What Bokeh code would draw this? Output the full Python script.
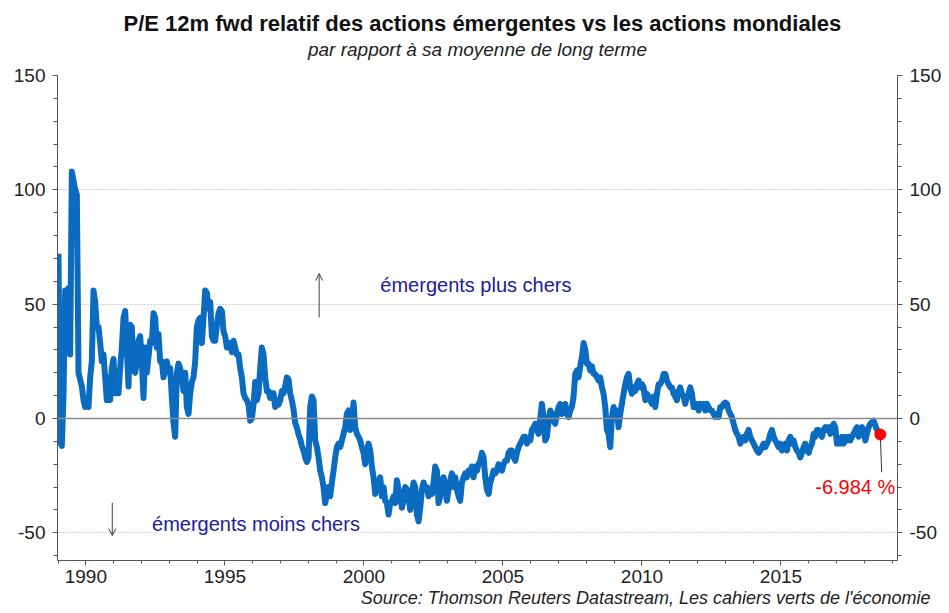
from bokeh.plotting import figure
from bokeh.models import (Range1d, LinearAxis, FixedTicker, Span, Label, Arrow,
                          OpenHead, Title, CustomJSTickFormatter)
from bokeh.embed import file_html
from bokeh.resources import INLINE

# ---------------- data ----------------
title_text = "P/E 12m fwd relatif des actions émergentes vs les actions mondiales"
subtitle_text = "par rapport à sa moyenne de long terme"
source_text = "Source: Thomson Reuters Datastream, Les cahiers verts de l'économie"
label_up = "émergents plus chers"
label_down = "émergents moins chers"

start_year = 1989.016      # first observation (decimal year)
step_years = 0.05995       # sampling interval (~3 weeks)

values = [
    72, -10, -12, 10, 56, 30, 57, 28, 108, 104,
    100, 98, 20, 17, 14, 8, 5, 6, 5, 18,
    25, 56, 51, 40, 40, 33, 25, 28, 18, 8,
    18, 8, 22, 26, 11, 14, 11, 22, 31, 44,
    47, 31, 14, 41, 40, 21, 20, 25, 34, 36,
    25, 9, 31, 20, 27, 34, 33, 46, 44, 31,
    37, 25, 25, 18, 24, 25, 20, 22, 9, -2,
    -8, 20, 24, 22, 18, 12, 20, 5, 2, 11,
    16, 18, 25, 40, 43, 44, 33, 44, 56, 55,
    48, 51, 36, 34, 34, 41, 46, 48, 47, 38,
    36, 31, 31, 33, 29, 34, 31, 28, 28, 22,
    18, 11, 9, 8, 6, -1, 0, 6, 16, 8,
    11, 22, 31, 28, 18, 12, 12, 9, 11, 11,
    5, 8, 6, 8, 12, 11, 14, 18, 17, 11,
    8, 4, -2, -4, -7, -9, -12, -14, -17, -19,
    -17, 5, 9.6, 8, -9.6, -12.5, -17, -22.8, -25.7, -30,
    -37, -33, -30, -34, -28, -22.8, -17, -12.5, -11, -12.5,
    -9.6, -6.7, -3.8, 2, 3.5, -5, -2.3, 7, -3.8, -6.7,
    -8, -9.6, -12.5, -15, -20, -14, -11, -14, -21, -25.7,
    -33, -30, -28, -25.7, -34, -30, -36, -37, -42, -37,
    -36, -34, -37, -27, -31, -33, -39, -36, -30, -31,
    -34, -40, -33, -28, -30, -42, -45, -39, -31, -28,
    -31, -30, -34, -31, -33, -28, -21, -22.8, -37, -34,
    -28, -25.7, -30, -36, -31, -27, -24, -30, -25.7, -31,
    -34, -36, -28, -25.7, -24, -25.7, -22.8, -24, -21, -25.7,
    -21, -22.8, -20, -18.5, -15, -17, -25.7, -31, -33, -28,
    -25.7, -22.8, -24, -22.8, -20, -21, -22.8, -20, -18.5, -18.5,
    -15, -14, -14, -17, -18.5, -15, -12.5, -11, -9.6, -8,
    -8, -11, -9.6, -9.6, -5, -3.8, -2.3, -5, -6.7, 0,
    6.4, 0.6, -9.6, -8, -1, 3.5, 2, -1, -2.3, 2,
    5, 6.4, 2, 5, 6.4, 2, 0.6, 3.5, 5, 9.6,
    19.5, 21, 18, 22.8, 27, 33, 30, 24, 24, 21,
    22.8, 19.5, 19.5, 18, 16.6, 18, 13.6, 10.8, 5, -5,
    -6.7, -12.5, 0.6, 5, 0.6, 3.5, -3.8, 2, 6.4, 10.8,
    15, 18, 19.5, 13.6, 10.8, 13.6, 12, 15, 16.6, 13.6,
    15, 13.6, 8, 10.8, 9.6, 8, 6.4, 9.6, 5, 10.8,
    15, 15, 16.6, 19.5, 19.5, 16.6, 15, 13.6, 13.6, 10.8,
    9.6, 8, 12, 13.6, 10.8, 9.6, 6.4, 9.6, 10.8, 13.6,
    10.8, 5, 5, 6.4, 3.5, 6.4, 5, 6.4, 3.5, 6.4,
    5, 3.5, 3.5, 2, 0.6, 2, 0.6, 5, 5, 6.4,
    7, 6.4, 3.5, 2, 0.6, -2.3, -5, -6.7, -8, -11,
    -9.6, -8, -9.6, -6.7, -5, -8, -9.6, -11, -12.5, -14,
    -15, -14, -12.5, -11, -12.5, -11, -9.6, -6.7, -5, -8,
    -9.6, -11, -12.5, -11, -14, -12.5, -11, -14, -9.6, -8,
    -11, -9.6, -12.5, -14, -15, -17, -15, -12.5, -11, -14,
    -15, -12.5, -11, -6.7, -8, -5, -5, -6.7, -8, -5,
    -3.8, -5, -3.8, -6.7, -3.8, -2.3, -3.8, -11, -9.6, -11,
    -8, -11, -8, -9.6, -8, -9.6, -8, -6.7, -5, -3.8,
    -8, -5, -3.8, -5, -9.6, -6.7, -3.8, -2.3, -1.6, -1,
    -3, -5, -6.7, -6.984,
]
years = [start_year + i * step_years for i in range(len(values))]

x_ticks = [1990, 1995, 2000, 2005, 2010, 2015]
x_minor = list(range(1989, 2020))
y_ticks = [-50, 0, 50, 100, 150]
y_minor = list(range(-60, 151, 10))
grid_levels = [-50, 50, 100, 150]

# ---------------- styles ----------------
FONT = "Liberation Sans"
BLUE = "#0A6BC0"
NAVY = "#20209A"
AXIS = "#555555"
X0, X1 = 1988.98, 2019.19
Y0, Y1 = -62.1, 150

p = figure(width=949, height=613,
           x_range=Range1d(X0, X1), y_range=Range1d(Y0, Y1),
           output_backend="svg", toolbar_location=None, title=None,
           min_border_left=57, min_border_right=52,
           min_border_top=75, min_border_bottom=53)
p.outline_line_color = None
p.background_fill_color = "white"
p.border_fill_color = "white"

# grid
p.xgrid.visible = False
p.ygrid.ticker = FixedTicker(ticks=grid_levels)
p.ygrid.grid_line_color = "#A8A8A8"
p.ygrid.grid_line_dash = "1 2"
p.ygrid.grid_line_width = 1
p.add_layout(Span(location=0, dimension="width", line_color="#8C8C8C", line_width=1.5))

plain = CustomJSTickFormatter(code="return tick.toString();")

# axes
right_axis = LinearAxis()
p.add_layout(right_axis, "right")
for ax in [p.yaxis[0], right_axis]:
    ax.ticker = FixedTicker(ticks=y_ticks, minor_ticks=y_minor)
    ax.formatter = plain
    ax.major_label_text_font = FONT
    ax.major_label_text_font_size = "19px"
    ax.major_label_text_color = "#222222"
    ax.axis_line_color = AXIS
    ax.major_tick_line_color = AXIS
    ax.minor_tick_line_color = AXIS
    ax.major_tick_in = 0
    ax.major_tick_out = 5
    ax.minor_tick_in = 0
    ax.minor_tick_out = 4
    ax.major_label_standoff = 7

xa = p.xaxis[0]
xa.ticker = FixedTicker(ticks=x_ticks, minor_ticks=x_minor)
xa.formatter = plain
xa.major_label_text_font = FONT
xa.major_label_text_font_size = "19px"
xa.major_label_text_color = "#222222"
xa.axis_line_color = AXIS
xa.major_tick_line_color = AXIS
xa.minor_tick_line_color = AXIS
xa.major_tick_in = 0
xa.major_tick_out = 5
xa.minor_tick_in = 0
xa.minor_tick_out = 3
xa.major_label_standoff = 4

# subtitle carried by an otherwise empty top axis (gives control of its distance to the frame)
top_axis = LinearAxis(ticker=FixedTicker(ticks=[]), axis_line_color=None,
                      major_tick_line_color=None, minor_tick_line_color=None,
                      major_tick_in=0, major_tick_out=0, minor_tick_in=0,
                      minor_tick_out=0, major_label_standoff=0,
                      axis_label=subtitle_text, axis_label_standoff=16,
                      axis_label_text_font=FONT, axis_label_text_font_size="19px",
                      axis_label_text_font_style="italic",
                      axis_label_text_color="#222222")
p.add_layout(top_axis, "above")

main = Title(text=title_text, align="left", text_font=FONT,
             text_font_size="22px", text_font_style="bold", text_color="#111111",
             offset=66, standoff=0)
p.add_layout(main, "above")
src = Title(text=source_text, align="right", text_font=FONT, text_font_size="18px",
            text_font_style="italic", text_color="#222222", offset=-33, standoff=0)
p.add_layout(src, "below")

# series
p.line(years, values, line_width=6, line_color=BLUE, line_join="round")

# annotations
p.add_layout(Label(x=2000.59, y=58.6, text=label_up, text_font=FONT, text_font_size="20px",
                   text_color=NAVY, text_align="left", text_baseline="middle"))
p.add_layout(Label(x=1992.38, y=-46, text=label_down, text_font=FONT, text_font_size="20px",
                   text_color=NAVY, text_align="left", text_baseline="middle",
                   background_fill_color="white"))
p.add_layout(Arrow(end=OpenHead(size=7, line_color="#404040", line_width=1),
                   x_start=1998.39, y_start=44.2, x_end=1998.39, y_end=63.4,
                   line_color="#404040", line_width=1))
p.add_layout(Arrow(end=OpenHead(size=7, line_color="#404040", line_width=1),
                   x_start=1990.95, y_start=-36.8, x_end=1990.95, y_end=-51.2,
                   line_color="#404040", line_width=1))

last_x, last_y = years[-1], values[-1]
p.segment(x0=[last_x], y0=[last_y], x1=[last_x + 0.05], y1=[-23.5],
          line_color="#333333", line_width=1)
p.scatter([last_x], [last_y], size=11, color="red")
# annotations are clipped to the frame, so the value label is right-aligned at its edge
p.add_layout(Label(x=X1 - 0.08, y=-29.8, text=f"{last_y:.3f} %", text_font=FONT,
                   text_font_size="20px", text_color="red", text_align="right",
                   text_baseline="middle"))

open("out.html", "w").write(file_html(p, INLINE))
